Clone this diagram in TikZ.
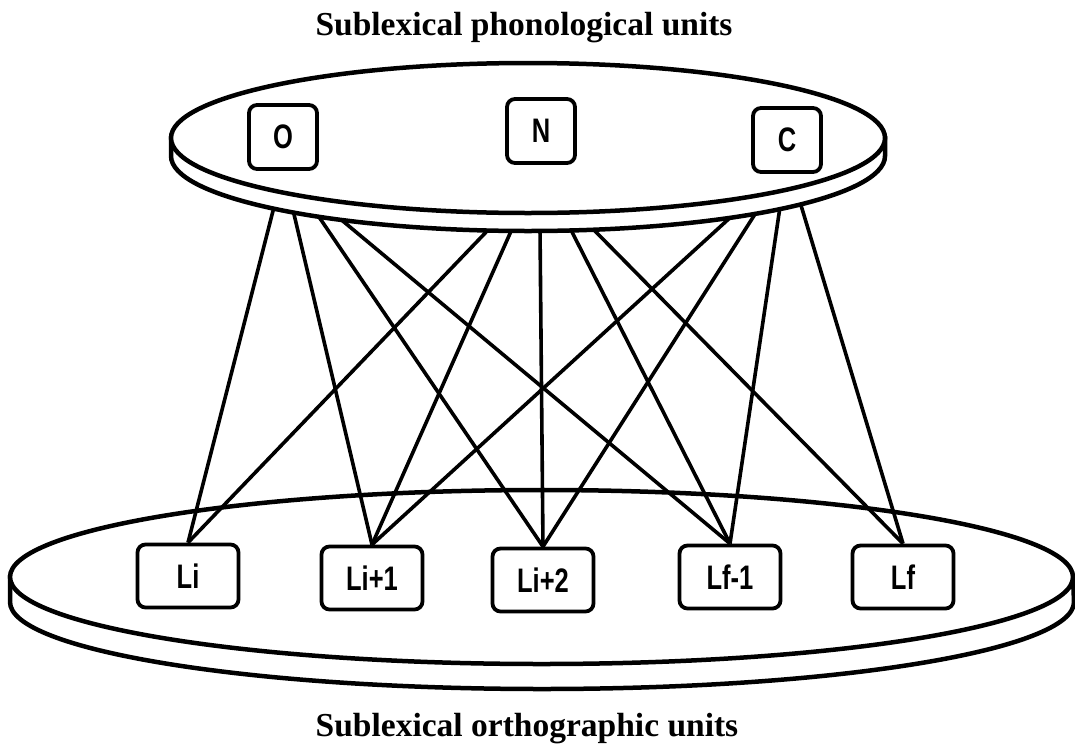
\documentclass[tikz,border=0pt]{standalone}
\usepackage{fontspec}
\setmainfont{Liberation Serif}
\newfontfamily\boxfont[FakeStretch=0.75]{Liberation Sans}
\tikzset{x=1pt, y=-1pt,
    phonbox/.style={draw, line width=3.8pt, rounded corners=8pt, fill=white,
        minimum width=68pt, minimum height=64pt,
        font=\boxfont\bfseries\fontsize{34}{38}\selectfont},
    orthbox/.style={phonbox, minimum width=101pt, minimum height=63pt},
    link/.style={line width=3.6pt},
    disk/.style={draw, line width=4.5pt, fill=white},
    caption/.style={anchor=base, font=\bfseries\fontsize{33.5}{40}\selectfont},
    }

\begin{document}
\begin{tikzpicture}
	\useasboundingbox (0,0) rectangle (1075,747);
	% orthographic layer
	\draw[disk] (10,577) -- (10,602) arc[start angle=180, end angle=0, x radius=532, y radius=87] -- (1073,577) -- cycle;
	\draw[disk] (541.5,577) ellipse [x radius=531.5, y radius=87];
	\node[orthbox] (Li)  at (188,576) {Li};
	\node[orthbox] (Li1) at (372,578) {Li+1};
	\node[orthbox] (Li2) at (543,580) {Li+2};
	\node[orthbox] (Lf1) at (730,577) {Lf-1};
	\node[orthbox] (Lf)  at (903,577) {Lf};
	% rim of the phonological layer
	\coordinate (rimO1) at (274,207);
	\coordinate (rimO2) at (293,210);
	\coordinate (rimO3) at (317,214);
	\coordinate (rimO4) at (338,217);
	\coordinate (rimN1) at (490,228);
	\coordinate (rimN2) at (512,229);
	\coordinate (rimN3) at (540,229);
	\coordinate (rimN4) at (570,228);
	\coordinate (rimN5) at (592,228);
	\coordinate (rimC1) at (733,215);
	\coordinate (rimC2) at (757,211);
	\coordinate (rimC3) at (780,207);
	\coordinate (rimC4) at (800,202);
	\foreach \from/\to in {rimO1/Li, rimO2/Li1, rimO3/Li2, rimO4/Lf1,
	    rimN1/Li, rimN2/Li1, rimN3/Li2, rimN4/Lf1, rimN5/Lf,
	    rimC1/Li1, rimC2/Li2, rimC3/Lf1, rimC4/Lf}
	    \draw[link] (\from) -- (\to.north);
	% phonological layer
	\draw[disk] (171,138) -- (171,156) arc[start angle=180, end angle=0, x radius=357, y radius=75] -- (885,138) -- cycle;
	\draw[disk] (528,138) ellipse [x radius=357, y radius=75];
	\node[phonbox] (O) at (283,137) {O};
	\node[phonbox] (N) at (541,131) {N};
	\node[phonbox] (C) at (787,140) {C};
	% captions
	\node[caption] (phon) at (524,35) {Sublexical phonological units};
	\node[caption] (orth) at (527,736) {Sublexical orthographic units};
\end{tikzpicture}
\end{document}
